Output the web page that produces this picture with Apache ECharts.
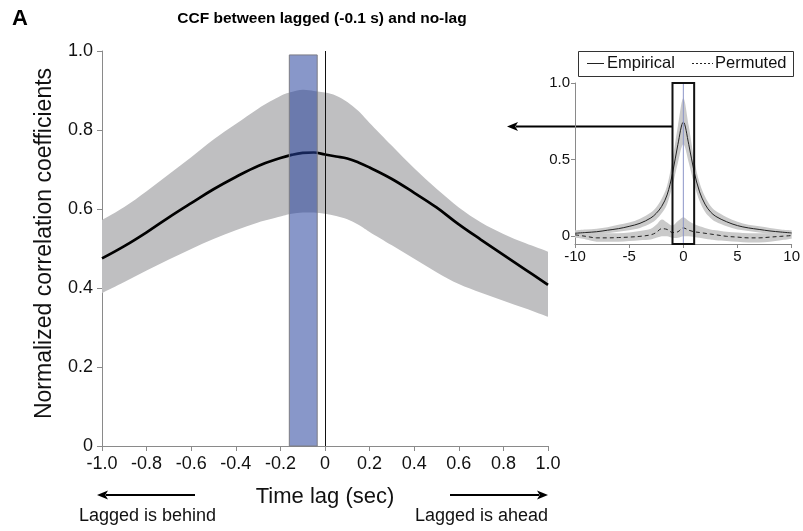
<!DOCTYPE html>
<html>
<head>
<meta charset="utf-8">
<script src="https://cdn.jsdelivr.net/npm/echarts@6/dist/echarts.min.js"></script>
<style>
  html, body { margin: 0; padding: 0; background: #fff; }
  #chart { width: 803px; height: 531px; }
</style>
</head>
<body>
<div id="chart"></div>
<script>
// ---- Main panel: CCF between lagged (-0.1 s) and no-lag signals, zoomed to +/-1 s ----
const lagSec = [-1.0, -0.9, -0.8, -0.7, -0.6, -0.5, -0.4, -0.3, -0.2, -0.15, -0.1, -0.05, 0,
                0.05, 0.1, 0.15, 0.2, 0.3, 0.4, 0.5, 0.6, 0.7, 0.8, 0.9, 1.0];
const ccfMean  = [0.475, 0.506, 0.541, 0.579, 0.615, 0.650, 0.681, 0.709, 0.729, 0.737, 0.742, 0.743, 0.738,
                  0.733, 0.728, 0.718, 0.705, 0.676, 0.641, 0.604, 0.561, 0.522, 0.484, 0.446, 0.408];
const ccfUpper = [0.572, 0.605, 0.645, 0.688, 0.731, 0.776, 0.815, 0.854, 0.886, 0.896, 0.902, 0.899, 0.895,
                  0.887, 0.871, 0.848, 0.818, 0.760, 0.703, 0.651, 0.604, 0.566, 0.537, 0.513, 0.492];
const ccfLower = [0.387, 0.415, 0.444, 0.472, 0.499, 0.524, 0.546, 0.566, 0.581, 0.588, 0.591, 0.591, 0.588,
                  0.582, 0.574, 0.560, 0.542, 0.508, 0.474, 0.440, 0.410, 0.388, 0.368, 0.348, 0.327];
const xTickValues = [-1.0, -0.8, -0.6, -0.4, -0.2, 0, 0.2, 0.4, 0.6, 0.8, 1.0];
const xTickLabels = ['-1.0', '-0.8', '-0.6', '-0.4', '-0.2', '0', '0.2', '0.4', '0.6', '0.8', '1.0'];
const yTickValues = [0, 0.2, 0.4, 0.6, 0.8, 1.0];
const yTickLabels = ['0', '0.2', '0.4', '0.6', '0.8', '1.0'];
// shaded window around the -0.1 s lag
const lagWindow = [-0.16, -0.035];
const lagWindowTop = 0.99;

// ---- Inset: full +/-10 s range ----
const insetLag  = [-10, -9, -8, -7, -6, -5, -4, -3, -2.5, -2, -1.5, -1, -0.5, 0,
                   0.5, 1, 1.5, 2, 2.5, 3, 4, 5, 6, 7, 8, 9, 10];
const empMean   = [0.020, 0.025, 0.030, 0.040, 0.050, 0.065, 0.085, 0.120, 0.150, 0.195, 0.270, 0.410, 0.600, 0.745,
                   0.600, 0.420, 0.290, 0.210, 0.160, 0.130, 0.095, 0.070, 0.055, 0.045, 0.035, 0.028, 0.022];
const empUpper  = [0.040, 0.045, 0.050, 0.060, 0.075, 0.090, 0.115, 0.155, 0.190, 0.245, 0.330, 0.500, 0.720, 0.900,
                   0.720, 0.500, 0.350, 0.260, 0.200, 0.165, 0.125, 0.095, 0.075, 0.065, 0.055, 0.045, 0.040];
const empLower  = [0.000, 0.005, 0.010, 0.020, 0.030, 0.040, 0.055, 0.085, 0.110, 0.150, 0.210, 0.330, 0.480, 0.600,
                   0.480, 0.340, 0.230, 0.160, 0.120, 0.095, 0.065, 0.045, 0.035, 0.025, 0.015, 0.010, 0.005];
const permMean  = [0.010, 0.000, -0.010, -0.010, -0.008, -0.005, 0.000, 0.010, 0.025, 0.050, 0.045, 0.025, 0.030, 0.055,
                   0.040, 0.030, 0.025, 0.020, 0.015, 0.010, 0.000, -0.005, -0.010, -0.010, -0.005, 0.000, 0.005];
const permUpper = [0.030, 0.025, 0.020, 0.020, 0.020, 0.025, 0.035, 0.050, 0.075, 0.110, 0.090, 0.070, 0.100, 0.125,
                   0.100, 0.080, 0.065, 0.055, 0.045, 0.040, 0.030, 0.025, 0.020, 0.020, 0.020, 0.025, 0.025];
const permLower = [-0.010, -0.020, -0.035, -0.035, -0.035, -0.030, -0.025, -0.020, -0.010, 0.000, 0.000, -0.010, -0.010, 0.000,
                   0.000, -0.005, -0.010, -0.015, -0.020, -0.025, -0.030, -0.035, -0.040, -0.040, -0.035, -0.025, -0.015];
const insetYTicks = [0, 0.5, 1.0];
const insetYLabels = ['0', '0.5', '1.0'];
const insetWindow = [-1, 1];
const insetYRange = [-0.05, 1.0];
const insetPointerLevel = 0.72;

const FONT = '"Liberation Sans", Arial, Helvetica, sans-serif';
const AXIS_GREY = '#8a8a8a';

const pairs = (xs, ys) => xs.map((x, i) => [x, ys[i]]);

// Catmull-Rom spline through pixel points, written as cubic Bezier path commands
function splineSegments(pts) {
  let d = '';
  for (let i = 0; i < pts.length - 1; i++) {
    const p0 = pts[Math.max(i - 1, 0)], p1 = pts[i], p2 = pts[i + 1], p3 = pts[Math.min(i + 2, pts.length - 1)];
    const c1 = [p1[0] + (p2[0] - p0[0]) / 6, p1[1] + (p2[1] - p0[1]) / 6];
    const c2 = [p2[0] - (p3[0] - p1[0]) / 6, p2[1] - (p3[1] - p1[1]) / 6];
    d += ' C' + c1[0].toFixed(2) + ',' + c1[1].toFixed(2) + ' ' + c2[0].toFixed(2) + ',' + c2[1].toFixed(2) +
         ' ' + p2[0].toFixed(2) + ',' + p2[1].toFixed(2);
  }
  return d;
}

// confidence band: closed shape along the upper curve and back along the lower curve
function band(xs, lo, hi, gi, color, z) {
  return {
    type: 'custom', xAxisIndex: gi, yAxisIndex: gi, silent: true, z: z, clip: true,
    data: xs.map((x, i) => [x, lo[i], hi[i]]),
    renderItem: (params, api) => {
      if (params.dataIndex !== 0) return null;
      const up = xs.map((x, i) => api.coord([x, hi[i]]));
      const dn = xs.map((x, i) => api.coord([x, lo[i]])).reverse();
      const d = 'M' + up[0][0].toFixed(2) + ',' + up[0][1].toFixed(2) + splineSegments(up) +
                ' L' + dn[0][0].toFixed(2) + ',' + dn[0][1].toFixed(2) + splineSegments(dn) + ' Z';
      return { type: 'path', shape: { pathData: d }, style: { fill: color } };
    }
  };
}

const chart = echarts.init(document.getElementById('chart'), null, { renderer: 'canvas' });

chart.setOption({
  animation: false,
  backgroundColor: '#fff',
  textStyle: { fontFamily: FONT },
  grid: [
    { left: 102, top: 51, width: 446, height: 395 },
    { left: 575, top: 83, width: 218, height: 161 }
  ],
  xAxis: [
    {
      gridIndex: 0, type: 'value', min: -1, max: 1, interval: 0.2,
      name: 'Time lag (sec)', nameLocation: 'middle', nameGap: 40,
      nameTextStyle: { fontFamily: FONT, fontSize: 22, color: '#111' },
      axisLine: { onZero: false, lineStyle: { color: AXIS_GREY, width: 1 } },
      axisTick: { show: true, length: 5, lineStyle: { color: AXIS_GREY }, customValues: xTickValues },
      axisLabel: {
        fontFamily: FONT, fontSize: 18, color: '#111', margin: 9,
        customValues: xTickValues,
        formatter: v => xTickLabels[xTickValues.findIndex(t => Math.abs(t - v) < 1e-6)]
      },
      splitLine: { show: false }
    },
    {
      gridIndex: 1, type: 'value', min: -10, max: 10, interval: 5,
      axisLine: { onZero: false, lineStyle: { color: AXIS_GREY, width: 1 } },
      axisTick: { show: true, length: 4, lineStyle: { color: AXIS_GREY } },
      axisLabel: { fontFamily: FONT, fontSize: 15, color: '#111', margin: 5 },
      splitLine: { show: false }
    }
  ],
  yAxis: [
    {
      gridIndex: 0, type: 'value', min: 0, max: 1, interval: 0.2,
      name: 'Normalized correlation coefficients', nameLocation: 'middle', nameGap: 46,
      nameTextStyle: { fontFamily: FONT, fontSize: 23, color: '#111', padding: [0, 0, 0, 10] },
      axisLine: { show: true, onZero: false, lineStyle: { color: AXIS_GREY, width: 1 } },
      axisTick: { show: true, length: 5, lineStyle: { color: AXIS_GREY } },
      axisLabel: {
        fontFamily: FONT, fontSize: 18, color: '#111', margin: 9,
        formatter: v => yTickLabels[yTickValues.findIndex(t => Math.abs(t - v) < 1e-6)]
      },
      splitLine: { show: false }
    },
    {
      gridIndex: 1, type: 'value', min: insetYRange[0], max: insetYRange[1],
      axisLine: { show: true, onZero: false, lineStyle: { color: AXIS_GREY, width: 1 } },
      axisTick: { show: true, length: 4, lineStyle: { color: AXIS_GREY }, customValues: insetYTicks },
      axisLabel: {
        fontFamily: FONT, fontSize: 15, color: '#111', margin: 5,
        customValues: insetYTicks,
        formatter: v => insetYLabels[insetYTicks.findIndex(t => Math.abs(t - v) < 1e-6)]
      },
      splitLine: { show: false }
    }
  ],
  series: [
    band(lagSec, ccfLower, ccfUpper, 0, '#bfbfc1', 1),
    {
      name: 'CCF', type: 'line', xAxisIndex: 0, yAxisIndex: 0,
      data: pairs(lagSec, ccfMean), smooth: 0.4, symbol: 'none', silent: true,
      lineStyle: { color: '#000', width: 2.7 }, z: 2
    },
    {
      // zero-lag reference line
      type: 'custom', xAxisIndex: 0, yAxisIndex: 0, silent: true, z: 3,
      data: [[0, 0, 1]],
      renderItem: (p, api) => {
        const a = api.coord([api.value(0), api.value(1)]);
        const b = api.coord([api.value(0), api.value(2)]);
        return { type: 'line', shape: { x1: Math.round(a[0]) + 0.5, y1: a[1], x2: Math.round(b[0]) + 0.5, y2: b[1] },
                 style: { stroke: '#111', lineWidth: 1 } };
      }
    },
    {
      // highlighted lag window, translucent so the band and curve show through
      type: 'custom', xAxisIndex: 0, yAxisIndex: 0, silent: true, z: 4,
      data: [[lagWindow[0], lagWindow[1], lagWindowTop]],
      renderItem: (p, api) => {
        const a = api.coord([api.value(0), 0]);
        const b = api.coord([api.value(1), api.value(2)]);
        return { type: 'group', children: [
          { type: 'rect', shape: { x: a[0], y: b[1], width: b[0] - a[0], height: a[1] - b[1] },
            style: { fill: '#26419c', opacity: 0.55 } },
          { type: 'rect', shape: { x: a[0], y: b[1], width: b[0] - a[0], height: a[1] - b[1] },
            style: { fill: 'none', stroke: '#7c7c84', lineWidth: 1 } }
        ] };
      }
    },
    // inset
    band(insetLag, empLower, empUpper, 1, '#cacaca', 1),
    band(insetLag, permLower, permUpper, 1, '#cacaca', 1),
    {
      name: 'Empirical', type: 'line', xAxisIndex: 1, yAxisIndex: 1,
      data: pairs(insetLag, empMean), smooth: 0.35, symbol: 'none', silent: true,
      lineStyle: { color: '#222', width: 1 }, z: 3
    },
    {
      name: 'Permuted', type: 'line', xAxisIndex: 1, yAxisIndex: 1,
      data: pairs(insetLag, permMean), smooth: 0.35, symbol: 'none', silent: true,
      lineStyle: { color: '#222', width: 1, type: [4, 3] }, z: 3
    },
    {
      // zero-lag marker and zoom window in the inset
      type: 'custom', xAxisIndex: 1, yAxisIndex: 1, silent: true, z: 5,
      data: [[insetWindow[0], insetWindow[1]]],
      renderItem: (p, api) => {
        const a = api.coord([api.value(0), insetYRange[1]]);
        const b = api.coord([api.value(1), insetYRange[0]]);
        const z0 = api.coord([0, insetYRange[1]]);
        const z1 = api.coord([0, insetYRange[0]]);
        return { type: 'group', children: [
          { type: 'line', shape: { x1: z0[0], y1: z0[1], x2: z1[0], y2: z1[1] },
            style: { stroke: '#8c96c8', lineWidth: 1 } },
          { type: 'rect', shape: { x: a[0], y: a[1], width: b[0] - a[0], height: b[1] - a[1] },
            style: { fill: 'none', stroke: '#111', lineWidth: 2 } }
        ] };
      }
    }
  ]
});

// annotations: panel letter, title, direction arrows, legend, and the pointer from the inset window
function arrow(x1, y, x2, head) {
  const dir = Math.sign(x2 - x1);
  return [
    { type: 'line', shape: { x1: x1, y1: y, x2: x2 - dir * head * 0.8, y2: y }, style: { stroke: '#000', lineWidth: 2 } },
    { type: 'polygon', shape: { points: [[x2, y], [x2 - dir * head, y - 4.5], [x2 - dir * head * 0.75, y], [x2 - dir * head, y + 4.5]] },
      style: { fill: '#000' } }
  ];
}

const winLeft = chart.convertToPixel({ gridIndex: 1 }, [insetWindow[0], insetPointerLevel]);
const mainLeft = chart.convertToPixel({ gridIndex: 0 }, [-1, 0]);
const mainRight = chart.convertToPixel({ gridIndex: 0 }, [1, 0]);
const legendTop = 51, legendMid = legendTop + 12.5;

chart.setOption({
  graphic: [
    { type: 'text', left: 12, top: 8, style: { text: 'A', font: 'bold 22px ' + FONT, fill: '#000' } },
    { type: 'text', x: 322, y: 19, style: { text: 'CCF between lagged (-0.1 s) and no-lag', font: 'bold 15.5px ' + FONT,
      fill: '#000', align: 'center', verticalAlign: 'middle' } },
    ...arrow(winLeft[0], Math.round(winLeft[1]) + 0.5, 507, 11),
    ...arrow(195, 495, mainLeft[0] - 5, 11),
    ...arrow(450, 495, mainRight[0], 11),
    { type: 'text', x: 79, y: 516, style: { text: 'Lagged is behind', font: '18px ' + FONT, fill: '#111',
      align: 'left', verticalAlign: 'middle' } },
    { type: 'text', x: mainRight[0], y: 516, style: { text: 'Lagged is ahead', font: '18px ' + FONT, fill: '#111',
      align: 'right', verticalAlign: 'middle' } },
    // inset legend
    { type: 'rect', shape: { x: 578.5, y: legendTop + 0.5, width: 215, height: 25 }, style: { fill: '#fff', stroke: '#333', lineWidth: 1 }, z: 10 },
    { type: 'line', shape: { x1: 587, y1: legendMid, x2: 604, y2: legendMid }, style: { stroke: '#222', lineWidth: 1 }, z: 11 },
    { type: 'text', x: 607, y: legendMid, style: { text: 'Empirical', font: '16.5px ' + FONT, fill: '#111', verticalAlign: 'middle' }, z: 11 },
    { type: 'line', shape: { x1: 692, y1: legendMid, x2: 713, y2: legendMid }, style: { stroke: '#222', lineWidth: 1, lineDash: [2, 2] }, z: 11 },
    { type: 'text', x: 715, y: legendMid, style: { text: 'Permuted', font: '16.5px ' + FONT, fill: '#111', verticalAlign: 'middle' }, z: 11 }
  ]
});
</script>
</body>
</html>
